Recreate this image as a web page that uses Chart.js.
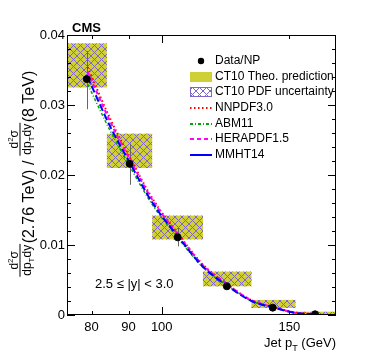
<!DOCTYPE html>
<html>
<head>
  <meta charset="UTF-8">
  <title>Jet cross section ratio 2.76/8 TeV</title>
  <script src="https://cdn.jsdelivr.net/npm/chart.js"></script>
  <style>
    html, body { margin: 0; padding: 0; background: #fff; }
    .wrap { width: 374px; height: 359px; position: relative; }
  </style>
</head>
<body>
  <div class="wrap"><canvas id="ratioChart"></canvas></div>

  <script>
    // bins in jet pT (GeV)
    const binLow = [74, 84, 97, 114, 133, 153];
    const binHigh = [84, 97, 114, 133, 153, 174];

    // Data/NP
    const dataPt = [78.8, 90.3, 105.2, 123.0, 142.3, 162.8];
    const dataVal = [0.0337, 0.0216, 0.0111, 0.0041, 0.00105, 0.0001];
    const dataErrLow = [0.0294, 0.0186, 0.0098, 0.0036, 0.0009, 0.0];
    const dataErrHigh = [0.0377, 0.0245, 0.0125, 0.0046, 0.0012, 0.0002];

    // CT10 theory band and PDF uncertainty
    const theoLow = [0.0325, 0.0210, 0.0108, 0.0041, 0.0010, 0.0];
    const theoHigh = [0.0388, 0.0259, 0.0142, 0.0062, 0.00215, 0.00047];
    const pdfLow = [0.0325, 0.0210, 0.0108, 0.0041, 0.0010, 0.0];
    const pdfHigh = [0.0388, 0.0259, 0.0142, 0.0062, 0.00215, 0.00047];

    // other PDF sets
    const theoryPt = [79, 85, 90.5, 97, 105.5, 114, 123.5, 133, 143, 153, 163.5];
    const nnpdf = [0.0354, 0.0279, 0.0224, 0.0167, 0.0115, 0.0072, 0.0043, 0.0021, 0.0011, 0.00035, 0.0001];
    const abm11 = [0.0330, 0.0262, 0.0211, 0.0158, 0.0109, 0.0068, 0.0041, 0.0020, 0.0010, 0.0003, 0.0001];
    const herapdf = [0.0348, 0.0275, 0.0221, 0.0165, 0.0114, 0.0071, 0.0043, 0.0021, 0.0011, 0.0003, 0.0001];
    const mmht = [0.0340, 0.0268, 0.0216, 0.0161, 0.0111, 0.0069, 0.0041, 0.0020, 0.00105, 0.0003, 0.0001];

    const xTickValues = [80, 90, 100, 150];
    const xTickLabels = ["80", "90", "100", "150"];
    const xMajorTicks = [100];
    const yTickValues = [0, 0.01, 0.02, 0.03, 0.04];
    const yTickLabels = ["0", "0.01", "0.02", "0.03", "0.04"];

    const FONT = '"Liberation Sans", Arial, Helvetica, sans-serif';
    const YELLOW = "#d0d036";
    const HATCH = "#7f66cc";

    const hatchTile = (() => {
      const c = document.createElement("canvas");
      c.width = 7; c.height = 7;
      const g = c.getContext("2d");
      g.strokeStyle = HATCH;
      g.lineWidth = 1;
      g.beginPath();
      g.moveTo(0, 0); g.lineTo(7, 7);
      g.moveTo(7, 0); g.lineTo(0, 7);
      g.stroke();
      return c;
    })();

    const xy = (xs, ys) => xs.map((v, i) => ({ x: v, y: ys[i] }));

    const lineSet = (label, vals, color, dash, width) => ({
      label, data: xy(theoryPt, vals),
      borderColor: color, borderWidth: width, borderDash: dash,
      pointRadius: 0, cubicInterpolationMode: "monotone", fill: false
    });

    // draw boxes + error bars under the lines
    const bandPlugin = {
      id: "bands",
      beforeDatasetsDraw(chart) {
        const { ctx, chartArea: a, scales: { x, y } } = chart;
        ctx.save();
        ctx.beginPath();
        ctx.rect(a.left, a.top, a.right - a.left, a.bottom - a.top);
        ctx.clip();
        const pat = ctx.createPattern(hatchTile, "repeat");
        binLow.forEach((lo, i) => {
          const x0 = x.getPixelForValue(lo), x1 = x.getPixelForValue(binHigh[i]);
          let y0 = y.getPixelForValue(theoHigh[i]), y1 = y.getPixelForValue(theoLow[i]);
          ctx.fillStyle = YELLOW;
          ctx.fillRect(x0, y0, x1 - x0, y1 - y0);
          y0 = y.getPixelForValue(pdfHigh[i]); y1 = y.getPixelForValue(pdfLow[i]);
          ctx.fillStyle = pat;
          ctx.fillRect(x0, y0, x1 - x0, y1 - y0);
        });
        ctx.strokeStyle = "#666";
        ctx.lineWidth = 1;
        dataPt.forEach((p, i) => {
          const px = Math.round(x.getPixelForValue(p)) + 0.5;
          ctx.beginPath();
          ctx.moveTo(px, y.getPixelForValue(dataErrLow[i]));
          ctx.lineTo(px, y.getPixelForValue(dataErrHigh[i]));
          ctx.stroke();
        });
        ctx.restore();
      }
    };

    function richWidth(ctx, parts) {
      let w = 0;
      parts.forEach(([t, s]) => { ctx.font = s + "px " + FONT; w += ctx.measureText(t).width; });
      return w;
    }
    function drawRich(ctx, parts, x0, base) {
      let x = x0;
      parts.forEach(([t, s, dy]) => {
        ctx.font = s + "px " + FONT;
        ctx.fillText(t, x, base + dy);
        x += ctx.measureText(t).width;
      });
    }

    // frame, ticks, legend and labels in ROOT style
    const decorPlugin = {
      id: "decor",
      afterDraw(chart) {
        const { ctx, chartArea: a, scales: { x, y } } = chart;
        ctx.save();
        ctx.strokeStyle = "#000";
        ctx.lineWidth = 1;
        ctx.strokeRect(a.left + 0.5, a.top + 0.5, a.right - a.left - 1, a.bottom - a.top - 1);

        ctx.beginPath();
        for (let v = 0; v <= 0.04 + 1e-9; v += 0.002) {
          const py = Math.round(y.getPixelForValue(v)) + 0.5;
          const major = yTickValues.some(t => Math.abs(t - v) < 1e-9);
          const len = major ? 8 : 4;
          ctx.moveTo(a.left, py); ctx.lineTo(a.left + len, py);
          ctx.moveTo(a.right, py); ctx.lineTo(a.right - len, py);
        }
        xTickValues.forEach(v => {
          const px = Math.round(x.getPixelForValue(v)) + 0.5;
          const len = xMajorTicks.includes(v) ? 8 : 4;
          ctx.moveTo(px, a.bottom); ctx.lineTo(px, a.bottom - len);
          ctx.moveTo(px, a.top); ctx.lineTo(px, a.top + len);
        });
        ctx.stroke();

        // legend
        const lx0 = 190, lx1 = 212, tx = 215;
        const rows = [61, 77, 92, 108, 124, 139, 155];
        ctx.fillStyle = "#000";
        ctx.font = "12px " + FONT;
        ctx.textBaseline = "middle";
        const names = ["Data/NP", "CT10 Theo. prediction", "CT10 PDF uncertainty", "NNPDF3.0", "ABM11", "HERAPDF1.5", "MMHT14"];
        names.forEach((n, i) => ctx.fillText(n, tx, rows[i]));
        ctx.beginPath();
        ctx.arc(201, rows[0], 3.2, 0, Math.PI * 2);
        ctx.fill();
        ctx.fillStyle = YELLOW;
        ctx.fillRect(lx0, rows[1] - 5, lx1 - lx0, 10);
        ctx.fillStyle = "#fff";
        ctx.fillRect(lx0, rows[2] - 4.5, lx1 - lx0, 9);
        ctx.fillStyle = ctx.createPattern(hatchTile, "repeat");
        ctx.fillRect(lx0, rows[2] - 4.5, lx1 - lx0, 9);
        ctx.strokeStyle = HATCH;
        ctx.strokeRect(lx0 + 0.5, rows[2] - 4.5, lx1 - lx0 - 1, 9);
        const legLines = [["#ff0000", [1.5, 2.5]], ["#00aa00", [3, 2, 1, 2]], ["#ff00ff", [4, 3]], ["#0000ff", []]];
        legLines.forEach(([c, d], i) => {
          ctx.strokeStyle = c; ctx.lineWidth = 2; ctx.setLineDash(d);
          ctx.beginPath();
          ctx.moveTo(lx0, rows[3 + i]); ctx.lineTo(lx1, rows[3 + i]);
          ctx.stroke();
        });
        ctx.setLineDash([]);

        // texts
        ctx.fillStyle = "#000";
        ctx.textBaseline = "alphabetic";
        ctx.font = "bold 13px " + FONT;
        ctx.fillText("CMS", 72, 32);
        ctx.font = "13px " + FONT;
        ctx.fillText("2.5 \u2264 |y| < 3.0", 95, 288);

        // x title
        const xt = [["Jet p", 13, 0], ["T", 9, 4], [" (GeV)", 13, 0]];
        drawRich(ctx, xt, a.right - richWidth(ctx, xt), 347);

        // y title, rotated
        const s = 16, f = 12;
        const num = [["d", f, 0], ["2", 8, -5], ["\u03c3", f, 0]];
        const den = [["dp", f, 0], ["T", 8, 3], ["dy", f, 0]];
        const fw = Math.max(richWidth(ctx, num), richWidth(ctx, den)) + 3;
        const t1 = [["(2.76 TeV) / ", s, 0]];
        const t2 = [["(8 TeV)", s, 0]];
        const total = 2 * fw + richWidth(ctx, t1) + richWidth(ctx, t2);
        ctx.translate(34, 174 + total / 2);
        ctx.rotate(-Math.PI / 2);
        let cx = 0;
        const frac = () => {
          drawRich(ctx, num, cx + (fw - richWidth(ctx, num)) / 2, -16);
          drawRich(ctx, den, cx + (fw - richWidth(ctx, den)) / 2, -3.5);
          ctx.fillRect(cx + 0.5, -14.5, fw - 1, 1);
          cx += fw;
        };
        frac();
        drawRich(ctx, t1, cx, 0); cx += richWidth(ctx, t1);
        frac();
        drawRich(ctx, t2, cx, 0);
        ctx.restore();
      }
    };

    new Chart(document.getElementById("ratioChart"), {
      type: "line",
      data: {
        datasets: [
          {
            label: "Data/NP", type: "scatter", data: xy(dataPt, dataVal),
            backgroundColor: "#000", borderColor: "#000", pointRadius: 3.5, showLine: false
          },
          lineSet("MMHT14", mmht, "#0000ff", [7, 3], 2),
          lineSet("HERAPDF1.5", herapdf, "#ff00ff", [4, 3], 2),
          lineSet("ABM11", abm11, "#00aa00", [3, 2, 1, 2], 1.5),
          lineSet("NNPDF3.0", nnpdf, "#ff0000", [1.5, 2.5], 2)
        ]
      },
      options: {
        responsive: true,
        maintainAspectRatio: false,
        animation: false,
        layout: { padding: { left: 0, right: 38, top: 35, bottom: 0 } },
        plugins: { legend: { display: false }, tooltip: { enabled: false } },
        scales: {
          x: {
            type: "logarithmic", min: 74, max: 174,
            grid: { display: false, drawTicks: false },
            border: { display: false },
            afterBuildTicks: ax => { ax.ticks = xTickValues.map(v => ({ value: v })); },
            afterFit: ax => { ax.height = 44; },
            ticks: {
              autoSkip: false, maxRotation: 0, padding: 5, color: "#000",
              font: { family: FONT, size: 13 },
              callback: v => xTickLabels[xTickValues.indexOf(v)]
            }
          },
          y: {
            min: 0, max: 0.04,
            grid: { display: false, drawTicks: false },
            border: { display: false },
            afterBuildTicks: ax => { ax.ticks = yTickValues.map(v => ({ value: v })); },
            afterFit: ax => { ax.width = 67; },
            ticks: {
              padding: 2, color: "#000",
              font: { family: FONT, size: 13 },
              callback: v => yTickLabels[yTickValues.indexOf(v)]
            }
          }
        }
      },
      plugins: [bandPlugin, decorPlugin]
    });
  </script>
</body>
</html>
